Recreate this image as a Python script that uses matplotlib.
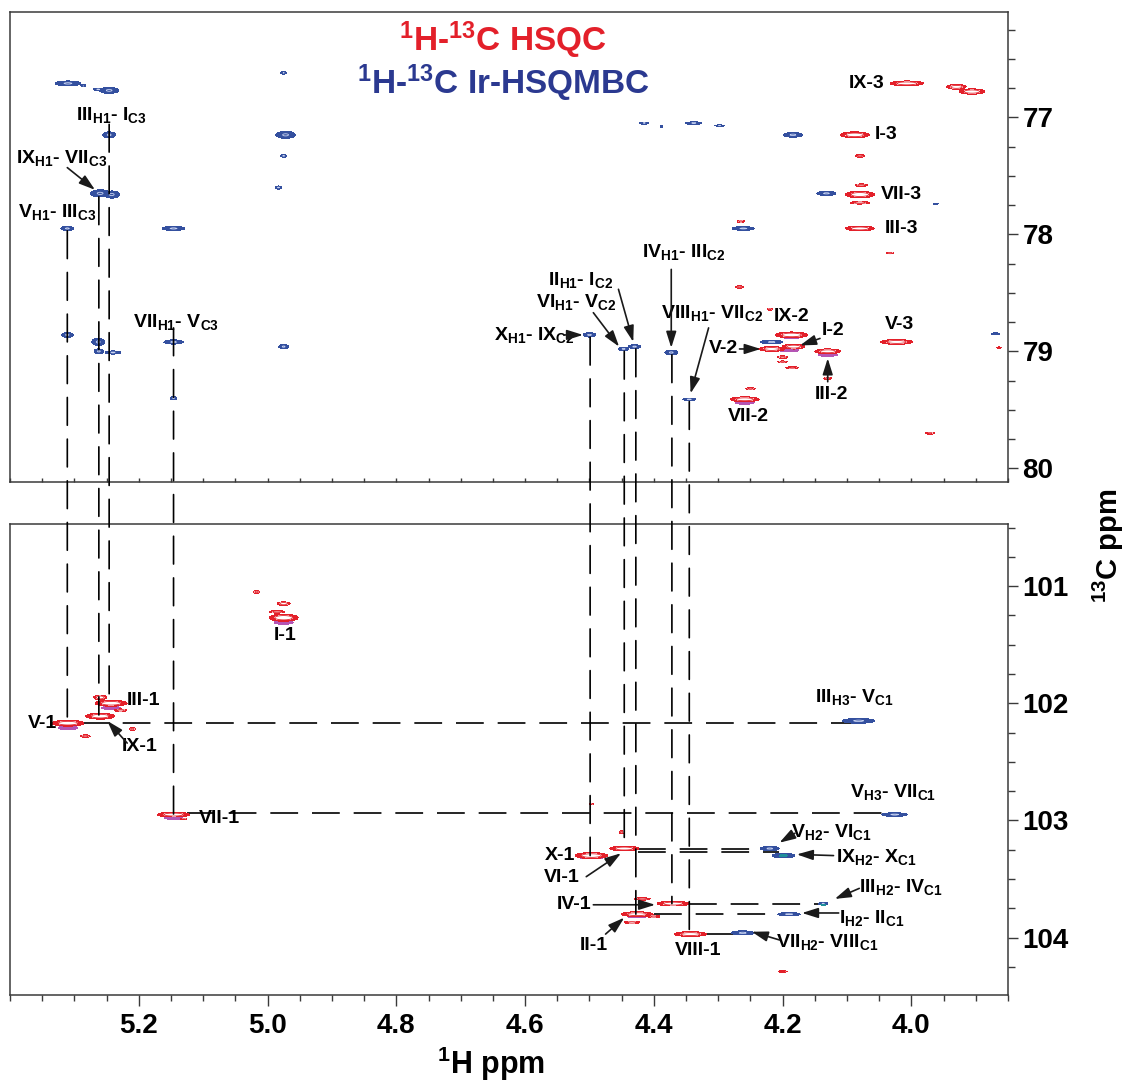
import numpy as np
import matplotlib
matplotlib.use('Agg')
import matplotlib.pyplot as plt
from matplotlib.patches import ConnectionPatch
from matplotlib.ticker import MultipleLocator, FixedLocator

plt.rcParams['font.family'] = ['Liberation Sans', 'DejaVu Sans']
plt.rcParams['font.weight'] = 'bold'
plt.rcParams['mathtext.fontset'] = 'custom'
plt.rcParams['mathtext.rm'] = 'Liberation Sans:bold'
plt.rcParams['mathtext.bf'] = 'Liberation Sans:bold'
plt.rcParams['mathtext.it'] = 'Liberation Sans:bold'
plt.rcParams['mathtext.default'] = 'rm'
plt.rcParams['lines.scale_dashes'] = False

# ---------------- data ----------------
# Top panel (C2 / C3 region) HSQC peaks: 1H ppm, 13C ppm, 1H extent, 13C extent
top_hsqc_h = [4.007, 3.930, 3.906, 4.088, 4.080, 4.080, 4.078, 4.080, 4.080, 4.033, 4.267, 4.220, 4.265,
              4.186, 4.217, 4.183, 4.130, 4.130, 4.200, 4.200, 4.185, 4.259, 4.250, 4.023, 3.971, 3.864]
top_hsqc_c = [76.71, 76.74, 76.78, 77.15, 77.33, 77.66, 77.58, 77.73, 77.95, 78.16, 78.45, 78.64, 77.89,
              78.86, 78.98, 78.96, 79.00, 79.23, 79.05, 79.09, 79.14, 79.41, 79.32, 78.92, 79.70, 78.97]
top_hsqc_wh = [0.052, 0.030, 0.040, 0.045, 0.015, 0.045, 0.020, 0.030, 0.045, 0.012, 0.012, 0.008, 0.012,
               0.050, 0.040, 0.035, 0.040, 0.012, 0.015, 0.015, 0.020, 0.045, 0.015, 0.050, 0.015, 0.008]
top_hsqc_wc = [0.040, 0.040, 0.045, 0.050, 0.020, 0.055, 0.020, 0.020, 0.040, 0.015, 0.020, 0.015, 0.015,
               0.050, 0.040, 0.040, 0.040, 0.020, 0.020, 0.015, 0.015, 0.040, 0.015, 0.040, 0.012, 0.010]

# Top panel Ir-HSQMBC peaks
top_hmbc_h = [5.310, 5.286, 5.263, 5.246, 5.246, 5.260, 5.242, 5.311, 5.146, 5.311, 5.263, 5.262, 5.240,
              5.146, 5.146, 4.975, 4.972, 4.975, 4.983, 4.975, 4.500, 4.447, 4.430, 4.373, 4.345,
              4.415, 4.388, 4.338, 4.298, 4.184, 4.132, 4.261, 4.217, 3.870, 3.962]
top_hmbc_c = [76.71, 76.73, 76.76, 76.77, 77.15, 77.65, 77.66, 77.95, 77.95, 78.86, 78.92, 79.00, 79.01,
              78.92, 79.40, 76.62, 77.15, 77.33, 77.60, 78.96, 78.86, 78.98, 78.96, 79.01, 79.41,
              77.05, 77.08, 77.05, 77.07, 77.15, 77.65, 77.95, 78.92, 78.85, 77.74]
top_hmbc_wh = [0.040, 0.008, 0.015, 0.030, 0.020, 0.030, 0.025, 0.020, 0.035, 0.018, 0.020, 0.015, 0.025,
               0.030, 0.010, 0.010, 0.030, 0.010, 0.010, 0.015, 0.020, 0.015, 0.020, 0.020, 0.020,
               0.015, 0.005, 0.025, 0.015, 0.030, 0.030, 0.035, 0.035, 0.015, 0.008]
top_hmbc_wc = [0.040, 0.015, 0.020, 0.050, 0.050, 0.060, 0.060, 0.035, 0.035, 0.040, 0.060, 0.040, 0.025,
               0.035, 0.030, 0.020, 0.060, 0.020, 0.025, 0.035, 0.035, 0.030, 0.030, 0.040, 0.020,
               0.015, 0.010, 0.020, 0.010, 0.040, 0.035, 0.030, 0.030, 0.010, 0.010]

# Top panel overlap (magenta) spots
top_mix_h = [4.259, 4.130, 4.190, 4.186]
top_mix_c = [79.44, 79.03, 78.99, 78.88]
top_mix_wh = [0.030, 0.030, 0.030, 0.030]
top_mix_wc = [0.025, 0.025, 0.030, 0.020]

# Bottom panel (C1 region) HSQC peaks
bot_hsqc_h = [4.975, 4.975, 4.985, 5.017, 5.310, 5.260, 5.243, 5.260, 5.228, 5.283, 5.210, 5.146, 5.130,
              4.497, 4.446, 4.370, 4.426, 4.418, 4.434, 4.400, 4.343, 4.200, 4.497, 4.450]
bot_hsqc_c = [101.27, 101.15, 101.22, 101.05, 102.17, 102.11, 102.00, 101.95, 102.06, 102.28, 102.22, 102.95, 102.99,
              103.30, 103.24, 103.71, 103.80, 103.67, 103.87, 103.82, 103.97, 104.29, 102.86, 103.10]
bot_hsqc_wh = [0.045, 0.020, 0.025, 0.010, 0.050, 0.045, 0.050, 0.020, 0.020, 0.015, 0.010, 0.050, 0.010,
               0.050, 0.045, 0.050, 0.050, 0.025, 0.025, 0.020, 0.050, 0.015, 0.008, 0.008]
bot_hsqc_wc = [0.060, 0.030, 0.020, 0.020, 0.050, 0.050, 0.050, 0.040, 0.020, 0.020, 0.020, 0.040, 0.010,
               0.050, 0.040, 0.040, 0.040, 0.020, 0.020, 0.015, 0.040, 0.010, 0.010, 0.020]

# Bottom panel Ir-HSQMBC peaks
bot_hmbc_h = [4.082, 4.026, 4.220, 4.199, 4.137, 4.190, 4.262]
bot_hmbc_c = [102.15, 102.95, 103.24, 103.30, 103.71, 103.80, 103.96]
bot_hmbc_wh = [0.050, 0.040, 0.030, 0.035, 0.015, 0.035, 0.035]
bot_hmbc_wc = [0.040, 0.030, 0.035, 0.040, 0.020, 0.025, 0.035]

bot_mix_h = [4.975, 5.310, 4.497, 5.146, 5.243, 4.426]
bot_mix_c = [101.31, 102.21, 103.31, 102.98, 102.04, 103.82]
bot_mix_wh = [0.030, 0.030, 0.045, 0.030, 0.030, 0.030]
bot_mix_wc = [0.030, 0.030, 0.035, 0.020, 0.025, 0.020]

bot_teal_h = [4.199, 4.137]
bot_teal_c = [103.30, 103.72]
bot_teal_wh = [0.012, 0.008]
bot_teal_wc = [0.020, 0.012]

# correlation lines running from the top panel into the bottom panel
link_h = [5.311, 5.262, 5.246, 5.146, 4.499, 4.446, 4.428, 4.372, 4.345]
link_c_top = [77.97, 77.68, 77.06, 78.80, 78.88, 79.00, 78.98, 79.03, 79.43]
link_c_bot = [102.17, 102.10, 102.00, 102.95, 103.30, 103.24, 103.80, 103.71, 103.97]

# horizontal correlation lines in the bottom panel
hline_c = [102.17, 102.94, 103.24, 103.27, 103.71, 103.80, 103.97]
hline_h0 = [5.290, 5.125, 4.425, 4.425, 4.345, 4.400, 4.320]
hline_h1 = [4.082, 4.026, 4.225, 4.205, 4.145, 4.200, 4.275]
hline_solid = [False, False, False, False, False, False, True]

# peak labels (text, 1H, 13C)
top_labels = [
    ('III$_{H1}$- I$_{C3}$', 5.243, 76.98),
    ('IX$_{H1}$- VII$_{C3}$', 5.319, 77.35),
    ('V$_{H1}$- III$_{C3}$', 5.327, 77.81),
    ('VII$_{H1}$- V$_{C3}$', 5.142, 78.75),
    ('X$_{H1}$- IX$_{C2}$', 4.586, 78.86),
    ('VI$_{H1}$- V$_{C2}$', 4.521, 78.58),
    ('II$_{H1}$- I$_{C2}$', 4.513, 78.39),
    ('IV$_{H1}$- III$_{C2}$', 4.353, 78.15),
    ('IX-3', 4.069, 76.71), ('I-3', 4.040, 77.15), ('VII-3', 4.016, 77.66),
    ('III-3', 4.015, 77.95), ('IX-2', 4.186, 78.70), ('V-2', 4.292, 78.98),
    ('I-2', 4.122, 78.82), ('III-2', 4.124, 79.37), ('VII-2', 4.253, 79.56),
    ('V-3', 4.018, 78.77),
]
top_arrows = [  # tail (h, c) -> head (h, c)
    (5.311, 77.43, 5.268, 77.62),
    (4.539, 78.86, 4.510, 78.86),
    (4.494, 78.67, 4.454, 78.96),
    (4.455, 78.47, 4.432, 78.92),
    (4.373, 78.30, 4.373, 78.97),
    (4.315, 78.80, 4.343, 79.36),
    (4.267, 78.98, 4.234, 78.98),
    (4.142, 78.89, 4.173, 78.95),
    (4.130, 79.26, 4.130, 79.06),
]
bot_labels = [
    ('I-1', 4.972, 101.42), ('III-1', 5.193, 101.98), ('V-1', 5.349, 102.17),
    ('IX-1', 5.198, 102.37), ('VII-1', 5.075, 102.98),
    ('III$_{H3}$- V$_{C1}$', 4.088, 101.95), ('V$_{H3}$- VII$_{C1}$', 4.029, 102.76),
    ('VIII-1', 4.331, 104.11), ('II-1', 4.494, 104.07),
    ('V$_{H2}$- VI$_{C1}$', 4.124, 103.10), ('IX$_{H2}$- X$_{C1}$', 4.055, 103.31),
    ('III$_{H2}$- IV$_{C1}$', 4.016, 103.57), ('I$_{H2}$- II$_{C1}$', 4.061, 103.83),
    ('VII$_{H2}$- VIII$_{C1}$', 4.131, 104.04),
]
bot_labels_right = [('X-1', 4.522, 103.30), ('VI-1', 4.516, 103.49), ('IV-1', 4.497, 103.72)]
bot_arrows = [
    (5.218, 102.34, 5.249, 102.15),
    (4.505, 103.48, 4.451, 103.28),
    (4.494, 103.72, 4.398, 103.72),
    (4.475, 103.97, 4.446, 103.83),
    (4.181, 103.11, 4.205, 103.19),
    (4.121, 103.30, 4.178, 103.29),
    (4.081, 103.58, 4.119, 103.67),
    (4.113, 103.79, 4.170, 103.79),
    (4.205, 104.02, 4.248, 103.95),
]

x_range = (5.40, 3.85)
top_range = (80.117, 76.10)
bot_range = (104.49, 100.47)

RED = '#e3202a'
BLUE = '#34509f'
MAG = '#b455b4'
TEAL = '#1f8f9a'
TBLUE = '#2b3990'

# ---------------- figure ----------------
W, H = 1126, 1086
fig = plt.figure(figsize=(W / 100, H / 100), dpi=100)
ax_top = fig.add_axes([10 / W, 1 - 482 / H, 998 / W, 470 / H])
ax_bot = fig.add_axes([10 / W, 1 - 995 / H, 998 / W, 471 / H])


def field(HH, CC, hs, cs, whs, wcs):
    Z = np.zeros_like(HH)
    for h, c, wh, wc in zip(hs, cs, whs, wcs):
        sh, sc = wh / 4.3, wc / 4.3
        Z = np.maximum(Z, np.exp(-0.5 * (((HH - h) / sh) ** 2 + ((CC - c) / sc) ** 2)))
    return Z


def draw_panel(ax, yr, hsqc, hmbc, mix, teal=None):
    hx = np.linspace(3.85, 5.40, 1800)
    cy = np.linspace(min(yr), max(yr), 700)
    HH, CC = np.meshgrid(hx, cy)
    Zb = field(HH, CC, *hmbc)
    ax.contourf(HH, CC, Zb, levels=[0.1, 5], colors=[BLUE], zorder=2)
    ax.contour(HH, CC, Zb, levels=[0.8], colors=['#c5d0f0'], linewidths=0.6, zorder=2.1)
    if teal is not None:
        Zt = field(HH, CC, *teal)
        ax.contourf(HH, CC, Zt, levels=[0.1, 5], colors=[TEAL], zorder=2.2)
    Zm = field(HH, CC, *mix)
    ax.contourf(HH, CC, Zm, levels=[0.1, 5], colors=[MAG], zorder=2.5)
    Zr = field(HH, CC, *hsqc)
    ax.contourf(HH, CC, Zr, levels=[0.1, 0.42], colors=[RED], zorder=3)
    ax.contourf(HH, CC, Zr, levels=[0.42, 5], colors=['white'], zorder=3)
    ax.contour(HH, CC, Zr, levels=[0.42], colors=[RED], linewidths=0.6, zorder=3.1)
    ax.set_xlim(*x_range)
    ax.set_ylim(*yr)


draw_panel(ax_top, top_range,
           (top_hsqc_h, top_hsqc_c, top_hsqc_wh, top_hsqc_wc),
           (top_hmbc_h, top_hmbc_c, top_hmbc_wh, top_hmbc_wc),
           (top_mix_h, top_mix_c, top_mix_wh, top_mix_wc))
draw_panel(ax_bot, bot_range,
           (bot_hsqc_h, bot_hsqc_c, bot_hsqc_wh, bot_hsqc_wc),
           (bot_hmbc_h, bot_hmbc_c, bot_hmbc_wh, bot_hmbc_wc),
           (bot_mix_h, bot_mix_c, bot_mix_wh, bot_mix_wc),
           (bot_teal_h, bot_teal_c, bot_teal_wh, bot_teal_wc))

# axes styling
for ax in (ax_top, ax_bot):
    for sp in ax.spines.values():
        sp.set_color('#3a3a3a')
        sp.set_linewidth(1.1)
    ax.yaxis.tick_right()
    ax.yaxis.set_major_locator(MultipleLocator(1))
    ax.yaxis.set_minor_locator(MultipleLocator(0.25))
    ax.tick_params(axis='y', which='major', direction='out', length=7, width=1, pad=3.5,
                   labelsize=20, colors='#3a3a3a', labelcolor='black')
    ax.tick_params(axis='y', which='minor', direction='out', length=5, width=1, colors='#3a3a3a')
    ax.xaxis.set_major_locator(FixedLocator([5.2, 5.0, 4.8, 4.6, 4.4, 4.2, 4.0]))
    ax.xaxis.set_minor_locator(MultipleLocator(0.05))
    for lab in ax.get_yticklabels():
        lab.set_fontweight('bold')

ax_top.tick_params(axis='x', which='both', direction='in', length=3, width=1,
                   labelbottom=False, colors='#3a3a3a')
ax_bot.tick_params(axis='x', which='major', direction='out', length=8, width=1, pad=5,
                   labelsize=20, colors='#3a3a3a', labelcolor='black')
ax_bot.tick_params(axis='x', which='minor', direction='out', length=4, width=1, colors='#3a3a3a')
ax_bot.xaxis.set_major_formatter(matplotlib.ticker.FormatStrFormatter('%.1f'))
for lab in ax_bot.get_xticklabels():
    lab.set_fontweight('bold')

DASH = (0, (20, 10))

# vertical correlation lines spanning both panels
for h, ct, cb in zip(link_h, link_c_top, link_c_bot):
    cp = ConnectionPatch(xyA=(h, ct), coordsA=ax_top.transData,
                         xyB=(h, cb), coordsB=ax_bot.transData,
                         arrowstyle='-', linestyle=DASH, linewidth=1.2, color='black', zorder=5)
    fig.add_artist(cp)

for c, h0, h1, solid in zip(hline_c, hline_h0, hline_h1, hline_solid):
    ax_bot.plot([h0, h1], [c, c], color='black', linewidth=1.2,
                linestyle='-' if solid else DASH, zorder=1.5)

lab_kw = dict(fontsize=14, fontweight='bold', color='black', zorder=6)
arr_kw = dict(arrowstyle='-|>,head_length=0.7,head_width=0.22', color='#1a1a1a', lw=1.2,
              shrinkA=0, shrinkB=0, mutation_scale=14)

for txt, h, c in top_labels:
    ax_top.text(h, c, txt, ha='center', va='center', **lab_kw)
ax_top.text(4.309, 78.67, 'VIII$_{H1}$- VII$_{C2}$', ha='center', va='center',
            bbox=dict(facecolor='white', edgecolor='none', pad=0.5), **lab_kw)
for h0, c0, h1, c1 in top_arrows:
    ax_top.annotate('', xy=(h1, c1), xytext=(h0, c0), arrowprops=arr_kw, zorder=7)

for txt, h, c in bot_labels:
    ax_bot.text(h, c, txt, ha='center', va='center', **lab_kw)
for txt, h, c in bot_labels_right:
    ax_bot.text(h, c, txt, ha='right', va='center', **lab_kw)
for h0, c0, h1, c1 in bot_arrows:
    ax_bot.annotate('', xy=(h1, c1), xytext=(h0, c0), arrowprops=arr_kw, zorder=7)

# titles and axis labels
fig.text(503 / W, 1 - 40 / H, '$^{1}$H-$^{13}$C HSQC', color=RED, fontsize=24,
         fontweight='bold', ha='center', va='center')
fig.text(503 / W, 1 - 83 / H, '$^{1}$H-$^{13}$C Ir-HSQMBC', color=TBLUE, fontsize=24,
         fontweight='bold', ha='center', va='center')
fig.text(491 / W, 1 - 1064 / H, '$^{1}$H ppm', fontsize=22, fontweight='bold',
         ha='center', va='center')
fig.text(1108 / W, 1 - 546 / H, '$^{13}$C ppm', fontsize=21, fontweight='bold',
         ha='center', va='center', rotation=90)

fig.savefig('out.png', dpi=100, facecolor='white')
